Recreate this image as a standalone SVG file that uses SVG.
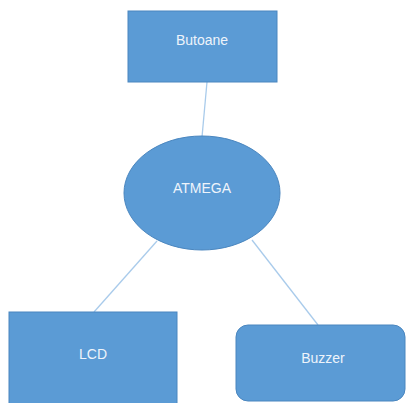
<svg xmlns="http://www.w3.org/2000/svg" width="407" height="403" viewBox="0 0 407 403">
<style>
.shape{fill:#5b9bd5;stroke:#4a86bf;stroke-width:1}
.lbl{font-family:"Liberation Sans",Arial,sans-serif;font-size:14px;fill:#eef4fb;text-anchor:middle}
.conn{stroke:#a9cbeb;stroke-width:1.3;fill:none}
</style>
<rect width="407" height="403" fill="#ffffff"/>
<g id="connectors">
<line class="conn" x1="207" y1="82" x2="202" y2="137"/>
<line class="conn" x1="157" y1="241" x2="94" y2="312"/>
<line class="conn" x1="252" y1="240" x2="318" y2="325"/>
</g>
<g id="butoane">
<rect class="shape" x="128" y="11" width="149" height="71"/>
<text class="lbl" x="202" y="45">Butoane</text>
</g>
<g id="atmega">
<ellipse class="shape" cx="202" cy="193" rx="78" ry="57"/>
<text class="lbl" x="202" y="193">ATMEGA</text>
</g>
<g id="lcd">
<rect class="shape" x="9" y="312" width="168" height="100"/>
<text class="lbl" x="93" y="359">LCD</text>
</g>
<g id="buzzer">
<rect class="shape" x="236" y="325" width="169" height="76" rx="12" ry="12"/>
<text class="lbl" x="323" y="363">Buzzer</text>
</g>
</svg>
